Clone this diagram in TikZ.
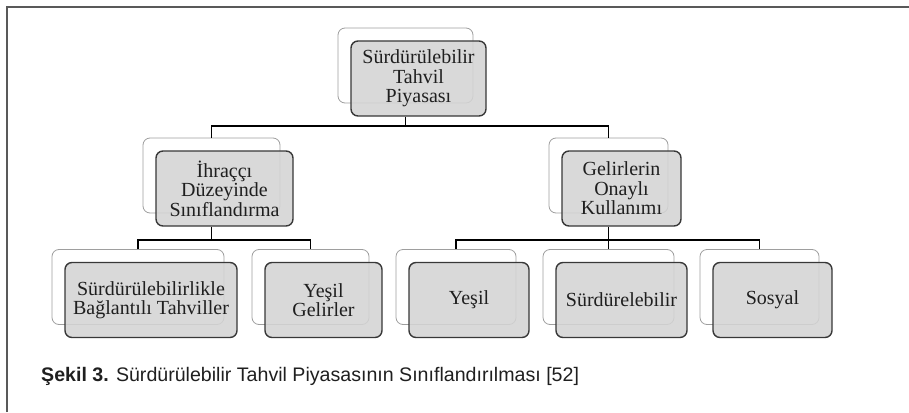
\documentclass[tikz,border=0pt]{standalone}
\usepackage{fontspec}
\setmainfont{Liberation Serif}
\newfontfamily\capfont{Liberation Sans}
\usetikzlibrary{calc}
\begin{document}
\begin{tikzpicture}[x=1pt,y=-1pt,
  backbox/.style={draw=black!38, line width=0.8pt, rounded corners=7pt, fill=white,
    minimum height=75pt, inner sep=0pt},
  frontbox/.style={draw=black!78, line width=1.4pt, rounded corners=7pt, fill=black!17,
    fill opacity=0.88, text opacity=1, text=black!88, align=center,
    minimum height=75pt, inner sep=0pt, font=\fontsize{20}{19.5}\selectfont},
  link/.style={draw=black, line width=1.8pt},
  frame/.style={draw=black!65, line width=1.5pt}]
\useasboundingbox (0,0) rectangle (909,412);

% outer frame (top and left edges only)
\coordinate (fbl) at (7,412);
\coordinate (ftl) at (7,7);
\coordinate (ftr) at (909,7);
\draw[frame] (fbl) -- (ftl) -- (ftr);

% level 0
\node[backbox, minimum width=135pt] (tB) at (405.5,65.5) {};
% level 1
\node[backbox, minimum width=137pt] (lB) at (211.5,175.5) {};
\node[backbox, minimum width=119pt] (rB) at (608.5,175.5) {};
% level 2
\node[backbox, minimum width=172pt] (aB) at (138,287) {};
\node[backbox, minimum width=117pt] (bB) at (310.5,287) {};
\node[backbox, minimum width=120pt] (cB) at (456,287) {};
\node[backbox, minimum width=131pt] (dB) at (608.5,287) {};
\node[backbox, minimum width=119pt] (eB) at (759.5,287) {};

% front shapes, shifted down-right of the outline shapes
\node[frontbox, minimum width=135pt] (tF) at ($(tB)+(13,13)$) {Sürdürülebilir\\Tahvil\\Piyasası};
\node[frontbox, minimum width=137pt] (lF) at ($(lB)+(13,13)$) {İhraççı\\Düzeyinde\\Sınıflandırma};
\node[frontbox, minimum width=119pt] (rF) at ($(rB)+(13,13)$) {Gelirlerin\\Onaylı\\Kullanımı};
\node[frontbox, minimum width=172pt] (aF) at ($(aB)+(13,13)$) {Sürdürülebilirlikle\\Bağlantılı Tahviller};
\node[frontbox, minimum width=117pt] (bF) at ($(bB)+(13,13)$) {Yeşil\\Gelirler};
\node[frontbox, minimum width=120pt] (cF) at ($(cB)+(13,13)$) {Yeşil};
\node[frontbox, minimum width=131pt] (dF) at ($(dB)+(13,13)$) {Sürdürelebilir};
\node[frontbox, minimum width=119pt] (eF) at ($(eB)+(13,13)$) {Sosyal};

% connectors
\draw[link] (tB.south |- tF.south) -- ++(0,9) coordinate (j0);
\draw[link] (lB.north) |- (j0) -| (rB.north);

\draw[link] (lB.south |- lF.south) -- ++(0,13) coordinate (j1);
\draw[link] (aB.north) |- (j1) -| (bB.north);

\draw[link] (rB.south |- rF.south) -- ++(0,13) coordinate (j2);
\draw[link] (cB.north) |- (j2) -| (eB.north);
\draw[link] (j2) -- (dB.north);

% caption
\node[anchor=base west, inner sep=0pt, text=black!88,
  font=\capfont\fontsize{19.6}{22}\selectfont] (cap) at (41,381)
  {\textbf{Şekil 3.} Sürdürülebilir Tahvil Piyasasının Sınıflandırılması [52]};
\end{tikzpicture}
\end{document}
